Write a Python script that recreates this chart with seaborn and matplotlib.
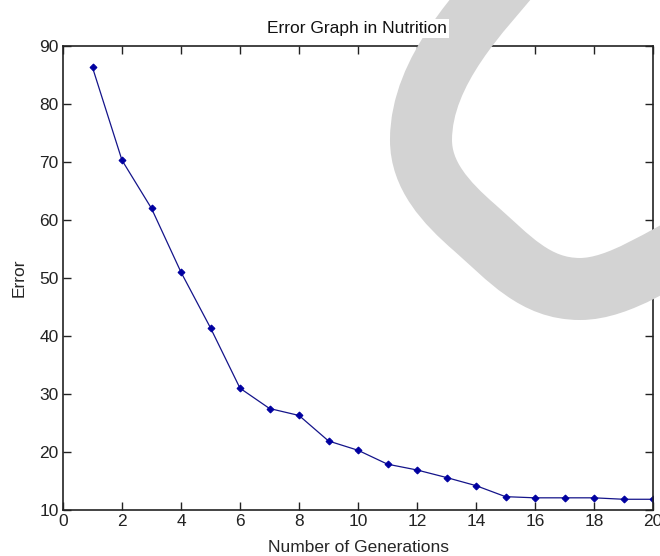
import numpy as np
import pandas as pd
import seaborn as sns
import matplotlib
matplotlib.use("Agg")
import matplotlib.pyplot as plt
from matplotlib.path import Path
from matplotlib.patches import PathPatch
from matplotlib.transforms import Affine2D

generations = [1, 2, 3, 4, 5, 6, 7, 8, 9, 10, 11, 12, 13, 14, 15, 16, 17, 18, 19, 20]
error = [86.3, 70.3, 62.0, 51.0, 41.4, 31.0, 27.5, 26.3, 21.9, 20.3,
         17.9, 16.9, 15.6, 14.2, 12.3, 12.1, 12.1, 12.1, 11.85, 11.85]
x_ticks = [0, 2, 4, 6, 8, 10, 12, 14, 16, 18, 20]
y_ticks = [10, 20, 30, 40, 50, 60, 70, 80, 90]

sns.set_style("ticks")
plt.rcParams['font.family'] = ['Liberation Sans', 'DejaVu Sans']

W, H = 660, 556
fig = plt.figure(figsize=(W / 100, H / 100), dpi=100)
ax = fig.add_axes([63 / W, 1 - 510 / H, (653 - 63) / W, (510 - 46) / H])

df = pd.DataFrame({"Generation": generations, "Error": error})
sns.lineplot(data=df, x="Generation", y="Error", ax=ax, color="#14148a",
             linewidth=0.9, marker="D", markersize=3.5,
             markeredgecolor="#0000a0", markerfacecolor="#0000a0")

ax.set_xlim(0, 20)
ax.set_ylim(10, 90)
ax.set_xticks(x_ticks)
ax.set_yticks(y_ticks)
ax.tick_params(direction="in", length=6, width=1.0, top=True, right=True,
               labeltop=False, labelright=False, labelsize=12.5, pad=3,
               colors="#222222")
for s in ax.spines.values():
    s.set_linewidth(1.2)
    s.set_color("#222222")
ax.set_xlabel("Number of Generations", fontsize=12.5, labelpad=8)
ax.set_ylabel("Error", fontsize=12.5, labelpad=9)

# title drawn above the gray overlay, on a white box
fig.text(357 / W, 1 - 33 / H, "Error Graph in Nutrition", fontsize=12.5,
         ha="center", va="baseline", zorder=11, color="#111111",
         bbox=dict(facecolor="white", edgecolor="none", pad=1.5))

# gray decorative arc overlay (pixel coordinates, y downwards)
verts = [(515, -30),
         (483, 9), (421, 70), (421, 140),
         (421, 175), (445, 202), (475, 228),
         (509, 258), (535, 289), (580, 289),
         (620, 289), (664, 256), (700, 240)]
codes = [Path.MOVETO] + [Path.CURVE4] * 12
tr = Affine2D().scale(1 / W, -1 / H).translate(0, 1) + fig.transFigure
patch = PathPatch(Path(verts, codes), facecolor="none", edgecolor="#d3d3d3",
                  linewidth=62 * 0.72, transform=tr, zorder=10,
                  capstyle="butt", joinstyle="round")
fig.add_artist(patch)

fig.savefig("out.png", dpi=100, facecolor="white")
